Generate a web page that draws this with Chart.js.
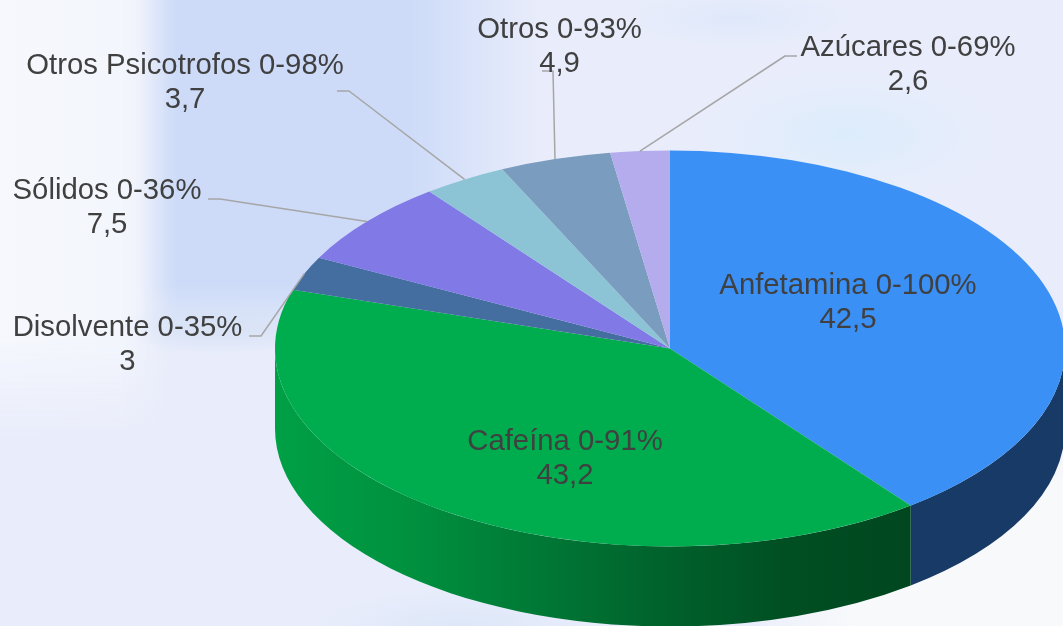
<!DOCTYPE html>
<html lang="es">
<head>
<meta charset="utf-8">
<title>Composición</title>
<script src="https://cdn.jsdelivr.net/npm/chart.js@4"></script>
<style>
html,body{margin:0;padding:0;width:1063px;height:626px;overflow:hidden}
body{background-color:#e9edfb;position:relative}
.bg{position:absolute;pointer-events:none}
#leftTop{left:0;top:0;width:170px;height:440px;background:linear-gradient(90deg,#f6f8fd 0,#f3f6fc 120px,rgba(243,246,252,0) 170px);-webkit-mask-image:linear-gradient(180deg,#000 330px,transparent 440px);mask-image:linear-gradient(180deg,#000 330px,transparent 440px)}
#band{left:140px;top:0;width:400px;height:352px;background:linear-gradient(90deg,rgba(205,219,248,0) 0,#cddbf8 36px,#cddbf8 270px,rgba(205,219,248,0) 400px);-webkit-mask-image:linear-gradient(180deg,#000 285px,transparent 352px);mask-image:linear-gradient(180deg,#000 285px,transparent 352px)}
#strip{left:100px;top:300px;width:200px;height:60px;background:radial-gradient(ellipse 100px 28px at 60% 45%,rgba(214,226,244,.8),transparent)}
#br{left:760px;top:400px;width:303px;height:226px;background:radial-gradient(ellipse 300px 220px at 90% 95%,#f8f9fb 60%,rgba(248,249,251,0))}
#tr{left:700px;top:70px;width:300px;height:130px;background:radial-gradient(ellipse 150px 65px at 50% 50%,rgba(218,236,252,.85),transparent)}
#tb{left:640px;top:0;width:240px;height:60px;background:radial-gradient(ellipse 120px 30px at 40% 30%,rgba(214,228,250,.55),transparent)}
#bot{left:280px;top:580px;width:300px;height:46px;background:radial-gradient(ellipse 150px 40px at 60% 100%,rgba(218,230,248,.8),transparent)}
#wrap{position:absolute;left:0;top:0;width:1063px;height:626px}
canvas{display:block}
</style>
</head>
<body>
<div class="bg" id="leftTop"></div><div class="bg" id="band"></div><div class="bg" id="strip"></div>
<div class="bg" id="br"></div><div class="bg" id="tr"></div><div class="bg" id="tb"></div><div class="bg" id="bot"></div>
<div id="wrap"><canvas id="c" width="1063" height="626"></canvas></div>
<script>
const categories = ["Anfetamina","Cafeína","Disolvente","Sólidos","Otros Psicotrofos","Otros","Azúcares"];
const ranges = ["0-100%","0-91%","0-35%","0-36%","0-98%","0-93%","0-69%"];
const values = [42.5,43.2,3,7.5,3.7,4.9,2.6];
const sliceColors = ["#3a90f5","#00ad4e","#446ea0","#8079e6","#8cc4d6","#7a9cbe","#b5aced"];

const pie = {cx:670, cy:348.5, rx:395, ry:198, depth:80};
const wallColors = ["#173a66", null, "#2b4a70", "#514ca0", "#5a8090", "#4d6a85", "#7a74a5"];
const greenStops = [[0,"#00a045"],[0.2,"#00923f"],[0.4,"#007a36"],[0.6,"#00632c"],[0.8,"#004f23"],[1,"#00471f"]];

// label centres (line 1 mid-height) and leader elbows
const labelX = [848,565,127.5,107,185,559.5,908];
const labelY = [286,442,328,191,66,30,48];
const leaderStart = [null,null,[249,336],[208,199],[337,91],[542,71],[797,56]];
const leaderElbow = [null,null,[261,336],[220,199],[349,91],[553,71],[785,56]];

const fmt = v => String(v).replace(".", ",");

const pie3d = {
  id:"pie3d",
  beforeDatasetsDraw(chart){
    const ctx = chart.ctx, arcs = chart.getDatasetMeta(0).data;
    const {cx,cy,rx,ry,depth} = pie;
    ctx.save();
    arcs.forEach((a,i)=>{
      const s = Math.max(a.startAngle,0), e = Math.min(a.endAngle,Math.PI);
      if(e<=s) return;
      let fill = wallColors[i];
      if(!fill){
        fill = ctx.createLinearGradient(cx-rx,0,cx+rx*0.608,0);
        greenStops.forEach(p=>fill.addColorStop(p[0],p[1]));
      }
      ctx.fillStyle = fill;
      ctx.beginPath();
      ctx.ellipse(cx,cy,rx,ry,0,s,e,false);
      ctx.ellipse(cx,cy+depth,rx,ry,0,e,s,true);
      ctx.closePath();
      ctx.fill();
    });
    ctx.restore();
    const a0 = arcs[0];
    ctx.save();
    ctx.translate(cx,cy);
    ctx.scale(rx/a0.outerRadius, ry/a0.outerRadius);
    ctx.translate(-a0.x,-a0.y);
  },
  afterDatasetsDraw(chart){
    const ctx = chart.ctx, arcs = chart.getDatasetMeta(0).data;
    ctx.restore();
    const {cx,cy,rx,ry} = pie;
    ctx.save();
    ctx.strokeStyle="#a6a6a6"; ctx.lineWidth=1.5; ctx.lineJoin="round";
    arcs.forEach((a,i)=>{
      if(!leaderStart[i]) return;
      const m=(a.startAngle+a.endAngle)/2;
      ctx.beginPath();
      ctx.moveTo(leaderStart[i][0],leaderStart[i][1]);
      ctx.lineTo(leaderElbow[i][0],leaderElbow[i][1]);
      ctx.lineTo(cx+rx*Math.cos(m),cy+ry*Math.sin(m));
      ctx.stroke();
    });
    ctx.fillStyle="#404040";
    ctx.font='29.3px "Liberation Sans", Arial, sans-serif';
    ctx.textAlign="center"; ctx.textBaseline="middle";
    categories.forEach((c,i)=>{
      ctx.fillText(c+" "+ranges[i],labelX[i],labelY[i]);
      ctx.fillText(fmt(values[i]),labelX[i],labelY[i]+33.5);
    });
    ctx.restore();
  }
};

new Chart(document.getElementById("c"),{
  type:"pie",
  data:{labels:categories,datasets:[{data:values,backgroundColor:sliceColors,borderWidth:0,hoverOffset:0}]},
  options:{
    responsive:false,animation:false,
    layout:{padding:0},
    plugins:{legend:{display:false},tooltip:{enabled:false},title:{display:false}}
  },
  plugins:[pie3d]
});
</script>
</body>
</html>
